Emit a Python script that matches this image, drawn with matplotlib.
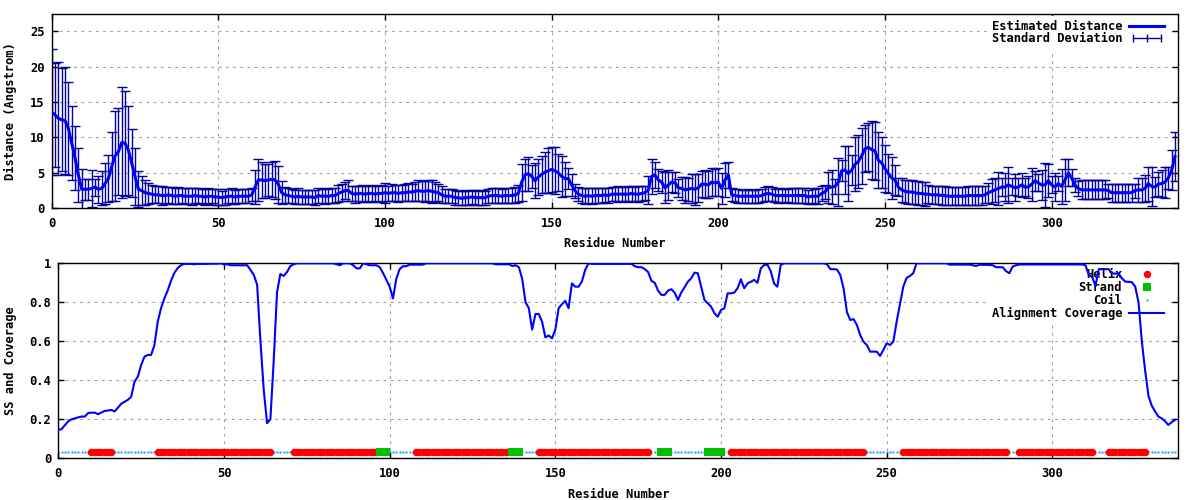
import matplotlib
matplotlib.use('Agg')
import matplotlib.pyplot as plt
import numpy as np
from matplotlib.legend_handler import HandlerLine2D
from matplotlib.lines import Line2D

# per-residue estimated distance (Angstrom), residues 0..337
dist_mean = [
    13.6, 13.2, 12.7, 12.5, 12.4, 11.3, 9.2, 7.1, 4.7, 2.7,
    2.7, 2.7, 2.8, 3.0, 2.7, 2.8, 3.5, 4.2, 5.9, 7.4,
    8.0, 9.3, 9.2, 8.2, 6.4, 4.5, 2.7, 2.5, 2.2, 2.1,
    2.0, 1.9, 1.9, 1.8, 1.8, 1.9, 1.8, 1.7, 1.8, 1.8,
    1.7, 1.7, 1.7, 1.8, 1.7, 1.7, 1.6, 1.7, 1.7, 1.6,
    1.6, 1.5, 1.6, 1.7, 1.7, 1.6, 1.7, 1.7, 1.7, 1.7,
    1.9, 3.0, 4.0, 4.0, 3.9, 4.0, 4.1, 4.0, 3.4, 2.2,
    1.9, 1.8, 1.7, 1.6, 1.7, 1.6, 1.6, 1.6, 1.6, 1.5,
    1.8, 1.7, 1.7, 1.7, 1.8, 1.8, 2.1, 2.3, 2.5, 2.5,
    2.1, 2.0, 2.1, 2.1, 2.0, 2.1, 2.1, 2.0, 2.1, 2.1,
    2.2, 2.1, 2.2, 2.2, 2.1, 2.2, 2.2, 2.3, 2.3, 2.4,
    2.5, 2.4, 2.4, 2.5, 2.4, 2.3, 2.2, 1.9, 1.7, 1.7,
    1.7, 1.5, 1.5, 1.4, 1.5, 1.5, 1.6, 1.5, 1.5, 1.5,
    1.5, 1.7, 1.8, 1.8, 1.8, 1.7, 1.8, 1.8, 1.8, 1.9,
    2.1, 3.7, 4.7, 4.9, 4.5, 3.9, 4.4, 4.8, 5.1, 5.3,
    5.5, 5.3, 5.0, 4.5, 4.2, 4.2, 3.3, 2.5, 2.0, 1.8,
    1.7, 1.8, 1.7, 1.8, 1.8, 1.8, 1.9, 1.8, 2.0, 2.0,
    2.0, 2.0, 2.0, 2.0, 2.1, 2.0, 2.0, 2.1, 2.2, 2.6,
    4.5, 4.7, 4.0, 3.7, 2.9, 3.3, 3.7, 3.6, 2.9, 2.8,
    2.6, 2.7, 2.8, 2.7, 2.9, 3.4, 3.4, 3.3, 3.7, 3.6,
    3.7, 2.8, 4.0, 4.7, 1.9, 1.8, 1.7, 1.7, 1.7, 1.7,
    1.7, 1.7, 1.7, 1.8, 2.0, 2.1, 2.0, 1.8, 1.8, 1.8,
    1.8, 1.8, 1.8, 1.8, 1.8, 1.8, 1.8, 1.6, 1.7, 1.7,
    1.7, 2.1, 2.3, 2.9, 3.0, 3.1, 3.7, 5.3, 5.4, 4.9,
    5.4, 6.2, 6.6, 7.4, 8.4, 8.6, 8.3, 8.1, 6.8, 6.4,
    5.6, 4.9, 4.3, 4.0, 3.0, 2.6, 2.4, 2.3, 2.3, 2.2,
    2.1, 2.1, 2.0, 2.0, 1.9, 1.9, 1.9, 1.8, 1.8, 1.7,
    1.7, 1.7, 1.7, 1.7, 1.7, 1.8, 1.8, 1.8, 1.8, 1.8,
    1.9, 2.2, 2.4, 2.6, 2.8, 3.0, 3.0, 3.3, 3.1, 2.9,
    3.0, 3.3, 3.0, 3.0, 3.4, 3.9, 3.6, 3.3, 3.3, 3.9,
    3.3, 3.0, 3.5, 3.1, 4.0, 5.0, 4.3, 3.3, 2.8, 2.6,
    2.6, 2.6, 2.6, 2.6, 2.6, 2.6, 2.6, 2.5, 2.2, 2.2,
    2.2, 2.2, 2.2, 2.2, 2.2, 2.5, 2.6, 2.6, 2.8, 3.5,
    3.1, 3.0, 3.4, 3.5, 3.7, 4.3, 5.4, 7.3,
]

dist_sd = [
    8.9, 7.3, 8.0, 7.3, 7.6, 6.6, 5.2, 4.5, 3.8, 2.8,
    1.5, 1.5, 2.6, 1.2, 1.9, 2.4, 2.9, 3.3, 4.9, 6.3,
    6.1, 7.8, 7.4, 6.3, 4.8, 4.0, 2.5, 2.0, 1.8, 1.5,
    1.3, 1.2, 1.2, 1.3, 1.2, 1.1, 1.2, 1.1, 1.2, 1.1,
    1.1, 1.1, 1.2, 1.1, 1.1, 1.0, 1.1, 1.1, 1.0, 1.1,
    1.1, 1.0, 1.1, 1.0, 1.1, 1.0, 1.0, 1.0, 1.0, 1.0,
    0.9, 2.4, 2.9, 2.5, 2.4, 2.3, 2.5, 2.7, 2.6, 1.6,
    1.1, 1.0, 1.0, 1.0, 1.1, 1.0, 1.0, 1.0, 1.0, 1.1,
    1.0, 1.0, 1.1, 1.0, 1.0, 1.1, 1.2, 1.2, 1.2, 1.5,
    1.1, 1.2, 1.1, 1.2, 1.1, 1.1, 1.2, 1.1, 1.1, 1.2,
    1.4, 1.1, 1.2, 1.1, 1.2, 1.1, 1.2, 1.3, 1.2, 1.3,
    1.5, 1.4, 1.5, 1.5, 1.6, 1.4, 1.2, 1.2, 1.0, 1.0,
    1.0, 1.1, 1.0, 1.0, 1.1, 1.0, 1.0, 1.1, 1.0, 1.1,
    1.0, 1.0, 1.0, 1.1, 1.0, 1.0, 1.1, 1.0, 1.0, 1.1,
    1.2, 2.6, 2.2, 2.4, 1.6, 2.5, 2.5, 2.6, 2.9, 3.2,
    3.2, 3.3, 2.6, 2.9, 2.4, 1.5, 1.5, 1.0, 1.0, 1.0,
    1.1, 1.0, 1.1, 1.0, 1.0, 1.1, 1.0, 1.1, 1.0, 1.0,
    1.1, 1.0, 1.0, 1.1, 1.0, 1.0, 1.1, 1.0, 1.0, 2.0,
    2.5, 1.8, 1.5, 1.6, 2.2, 2.1, 1.4, 1.5, 1.3, 1.6,
    1.8, 1.6, 2.0, 2.2, 2.0, 1.8, 2.0, 1.9, 2.0, 1.9,
    2.0, 2.2, 2.4, 1.9, 0.9, 0.9, 1.0, 0.9, 0.9, 1.0,
    0.9, 0.9, 1.0, 0.9, 1.0, 1.0, 1.0, 0.9, 1.0, 0.9,
    1.0, 0.9, 1.0, 1.0, 1.0, 1.0, 1.0, 1.0, 1.1, 1.0,
    1.1, 1.1, 1.0, 2.2, 2.4, 1.1, 3.4, 1.5, 3.4, 3.9,
    2.1, 3.8, 3.7, 3.9, 3.3, 3.4, 4.1, 4.1, 4.0, 3.6,
    3.3, 2.8, 3.0, 2.1, 1.3, 1.7, 1.6, 1.7, 1.7, 1.6,
    1.7, 1.6, 1.7, 1.3, 1.3, 1.3, 1.3, 1.3, 1.3, 1.3,
    1.3, 1.3, 1.3, 1.3, 1.3, 1.3, 1.3, 1.3, 1.3, 1.3,
    1.2, 1.4, 1.8, 1.75, 2.3, 1.3, 2.0, 2.5, 1.2, 1.9,
    1.3, 1.75, 1.3, 1.5, 2.35, 1.4, 1.2, 2.15, 3.15, 2.3,
    1.2, 2.0, 1.1, 2.5, 2.9, 1.9, 1.2, 1.0, 1.1, 1.35,
    1.35, 1.35, 1.35, 1.35, 1.35, 1.35, 1.35, 1.0, 1.3, 1.3,
    1.3, 1.3, 1.3, 1.3, 1.3, 1.0, 1.75, 1.75, 1.9, 2.4,
    2.8, 1.4, 1.7, 1.9, 2.2, 1.6, 2.8, 3.5,
]

# alignment coverage per residue
coverage = [
    0.145, 0.15, 0.17, 0.19, 0.20, 0.205, 0.21, 0.214, 0.214, 0.232,
    0.234, 0.234, 0.226, 0.235, 0.243, 0.245, 0.248, 0.24, 0.26, 0.28,
    0.29, 0.30, 0.316, 0.393, 0.419, 0.479, 0.521, 0.53, 0.53, 0.58,
    0.70, 0.77, 0.82, 0.86, 0.91, 0.95, 0.975, 0.99, 0.997, 0.997,
    0.997, 0.995, 0.997, 0.997, 0.997, 0.997, 0.998, 0.998, 0.998, 1.0,
    0.995, 0.995, 0.99, 0.99, 0.99, 0.99, 0.99, 0.99, 0.966, 0.94,
    0.89, 0.60, 0.35, 0.18, 0.20, 0.50, 0.85, 0.945, 0.935, 0.955,
    0.985, 0.995, 1.0, 1.0, 1.0, 1.0, 1.0, 1.0, 1.0, 1.0,
    1.0, 1.0, 1.0, 1.0, 0.995, 0.99, 1.0, 1.0, 1.0, 0.99,
    0.974, 0.974, 1.0, 0.995, 0.99, 0.99, 0.99, 0.98, 0.95, 0.915,
    0.88, 0.82, 0.92, 0.97, 0.985, 0.985, 0.993, 0.993, 0.993, 0.993,
    0.993, 1.0, 1.0, 1.0, 1.0, 1.0, 1.0, 1.0, 1.0, 1.0,
    1.0, 1.0, 1.0, 1.0, 1.0, 1.0, 1.0, 1.0, 1.0, 1.0,
    1.0, 1.0, 0.995, 0.995, 0.995, 0.995, 0.995, 0.986, 0.99, 0.98,
    0.92, 0.80, 0.77, 0.66, 0.74, 0.74, 0.70, 0.62, 0.63, 0.615,
    0.66, 0.77, 0.79, 0.808, 0.77, 0.897, 0.88, 0.88, 0.906, 0.966,
    1.0, 0.997, 0.997, 0.997, 0.997, 0.997, 0.997, 0.997, 0.997, 0.997,
    0.997, 0.997, 0.997, 0.997, 0.985, 0.98, 0.98, 0.97, 0.955, 0.91,
    0.90, 0.86, 0.838, 0.838, 0.86, 0.867, 0.85, 0.812, 0.85, 0.877,
    0.906, 0.923, 0.952, 0.949, 0.88, 0.812, 0.795, 0.778, 0.744, 0.726,
    0.761, 0.769, 0.846, 0.846, 0.85, 0.872, 0.918, 0.872, 0.897, 0.905,
    0.915, 0.90, 0.974, 0.991, 0.993, 0.96, 0.897, 0.88, 0.991, 1.0,
    1.0, 1.0, 1.0, 1.0, 1.0, 1.0, 1.0, 1.0, 1.0, 1.0,
    1.0, 1.0, 0.995, 0.97, 0.97, 0.968, 0.94, 0.87, 0.75, 0.709,
    0.714, 0.684, 0.632, 0.598, 0.581, 0.547, 0.547, 0.547, 0.525, 0.556,
    0.59, 0.581, 0.598, 0.70, 0.79, 0.88, 0.925, 0.935, 0.949, 1.0,
    1.0, 1.0, 1.0, 1.0, 1.0, 1.0, 1.0, 1.0, 1.0, 0.993,
    0.993, 0.993, 0.993, 0.993, 0.993, 0.993, 0.99, 0.986, 0.993, 0.992,
    0.992, 0.992, 0.99, 0.98, 0.98, 0.98, 0.96, 0.949, 0.983, 0.99,
    0.994, 0.994, 0.994, 0.994, 0.994, 0.994, 0.994, 0.994, 0.994, 0.994,
    0.994, 0.994, 0.994, 0.994, 0.994, 0.994, 0.994, 0.994, 0.994, 0.994,
    0.99, 0.94, 0.93, 0.884, 0.97, 0.97, 0.97, 0.97, 0.949, 0.947,
    0.947, 0.923, 0.906, 0.905, 0.903, 0.88, 0.80, 0.60, 0.45, 0.32,
    0.27, 0.24, 0.214, 0.205, 0.19, 0.171, 0.185, 0.197,
]

# secondary structure segments (first, last residue)
helix_segments = [(10, 16), (30, 64), (71, 96), (108, 135), (145, 178),
                  (203, 243), (255, 286), (290, 312), (317, 328)]
strand_segments = [(97, 99), (137, 139), (182, 184), (196, 200)]
ss_level = 0.03

x_max = 338
dist_yticks = [0, 5, 10, 15, 20, 25]
cov_yticks = [0, 0.2, 0.4, 0.6, 0.8, 1]
res_ticks = [0, 50, 100, 150, 200, 250, 300]

FS = 8.7
plt.rcParams['font.family'] = 'DejaVu Sans Mono'
plt.rcParams['font.weight'] = 'bold'
plt.rcParams['font.size'] = FS

NAVY = '#00009c'
BLUE = '#0000ff'
GRID = dict(color='#a0a0a0', linestyle=(0, (2.5, 4)), linewidth=0.8)
LEG = dict(loc='upper right', borderaxespad=0, borderpad=0.4, frameon=True,
           facecolor='white', edgecolor='none', framealpha=1, fancybox=False,
           markerfirst=False, handlelength=2.9, handletextpad=0.6,
           prop={'size': FS, 'weight': 'bold'})


def style_axis(ax, yticks, ylim):
    ax.set_xlim(0, x_max)
    ax.set_ylim(*ylim)
    ax.set_xticks(res_ticks)
    ax.set_yticks(yticks)
    ax.set_yticklabels([f'{v:g}' for v in yticks])
    ax.tick_params(direction='in', length=4, width=1, top=True, right=True,
                   labelsize=FS)
    ax.tick_params(axis='x', pad=6)
    ax.tick_params(axis='y', pad=5)
    ax.grid(True, **GRID)
    ax.set_axisbelow(True)
    for s in ax.spines.values():
        s.set_linewidth(1.0)
    ax.set_xlabel('Residue Number', fontsize=FS, fontweight='bold')
    ax.xaxis.set_label_coords(0.5, -0.15)


fig = plt.figure(figsize=(12, 5), dpi=100)
ax1 = fig.add_axes([0.0431, 0.5834, 0.9388, 0.388])
ax2 = fig.add_axes([0.0486, 0.0834, 0.9333, 0.390])

# top panel: distance with error bars
res = np.arange(len(dist_mean))
ax1.errorbar(res, dist_mean, yerr=dist_sd, fmt='none', ecolor=NAVY,
             elinewidth=1.0, capsize=3.5, capthick=1.0, zorder=2)
ax1.plot(res, dist_mean, color=BLUE, lw=2.2, zorder=3)
style_axis(ax1, dist_yticks, (0, 27.4))
ax1.set_ylabel('Distance (Angstrom)', fontsize=FS, fontweight='bold')
ax1.yaxis.set_label_coords(-0.0308, 0.5)

h_est = Line2D([], [], color=BLUE, lw=2.2)
h_sd = Line2D([], [], color=NAVY, lw=1.0, marker='|', markersize=6, mew=1.0)
ax1.legend([h_est, h_sd], ['Estimated Distance', 'Standard Deviation'],
           bbox_to_anchor=(0.992, 0.993), labelspacing=-0.12,
           handler_map={h_sd: HandlerLine2D(numpoints=3)}, **LEG)

# bottom panel: secondary structure and coverage
ss = np.array(['C'] * x_max)
for a, b in helix_segments:
    ss[a:b + 1] = 'H'
for a, b in strand_segments:
    ss[a:b + 1] = 'E'
res_ss = np.arange(x_max)
lvl = np.full(x_max, ss_level)

ax2.plot(res_ss[ss == 'C'], lvl[ss == 'C'], ls='none', marker='s',
         markersize=1.4, color='#1e90ff', mew=0, zorder=2, label='Coil')
ax2.plot(res_ss[ss == 'H'], lvl[ss == 'H'], ls='none', marker='o',
         markersize=5.4, color='#ff0000', mew=0, zorder=2, label='Helix')
ax2.plot(res_ss[ss == 'E'], lvl[ss == 'E'], ls='none', marker='s',
         markersize=5.6, color='#00c000', mew=0, zorder=2, label='Strand')
res_cov = np.arange(len(coverage))
ax2.plot(res_cov, coverage, color=BLUE, lw=1.5, zorder=3,
         label='Alignment Coverage')
style_axis(ax2, cov_yticks, (0, 1))
ax2.set_ylabel('SS and Coverage', fontsize=FS, fontweight='bold')
ax2.yaxis.set_label_coords(-0.0369, 0.5)

handles, labels = ax2.get_legend_handles_labels()
order = ['Helix', 'Strand', 'Coil', 'Alignment Coverage']
hmap = dict(zip(labels, handles))
leg2 = ax2.legend([hmap[k] for k in order], order, numpoints=1,
                  bbox_to_anchor=(0.992, 1.0), labelspacing=0.0, **LEG)
leg2.set_zorder(1)

fig.savefig('out.png', dpi=100)
